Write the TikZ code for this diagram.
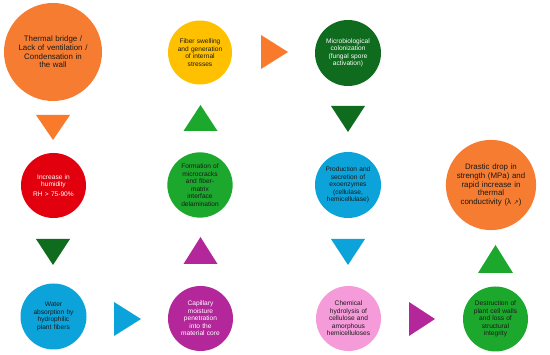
\documentclass[tikz,border=0pt]{standalone}
\usepackage{fontspec}
\setmainfont{Liberation Sans}
\newfontfamily\symfont{DejaVu Sans}
\definecolor{corange}{HTML}{F57C30}
\definecolor{torange}{HTML}{FA7A2C}
\definecolor{cyellow}{HTML}{FFC000}
\definecolor{cdgreen}{HTML}{0F6B1E}
\definecolor{cred}{HTML}{E2000E}
\definecolor{cgreen}{HTML}{1CA82C}
\definecolor{cblue}{HTML}{0BA3DA}
\definecolor{cmag}{HTML}{B4279B}
\definecolor{cpink}{HTML}{F59BDA}
\definecolor{dtext}{HTML}{1A1A1A}
\tikzset{
  bubble/.style={circle, inner sep=0pt, align=center, text width=50pt,
    font=\fontsize{6.6}{7.5}\selectfont},
  bigbubble/.style={circle, inner sep=0pt, align=center, text width=80pt,
    font=\fontsize{7.9}{8.7}\selectfont},
}
\begin{document}
\begin{tikzpicture}[x=1pt,y=-1pt]
\useasboundingbox (0,0) rectangle (550,355);
% circles
\node[bigbubble, fill=corange, text=dtext, minimum size=98pt] (cause) at (53,52) {Thermal bridge /\\Lack of ventilation /\\Condensation in\\the wall};
\node[bubble, fill=cred, text=white, minimum size=65pt] (hum) at (53.5,185.5) {Increase in\\humidity\\[2pt]RH \textgreater{} 75-90\%};
\node[bubble, fill=cblue, text=dtext, minimum size=66pt] (water) at (53.5,316.5) {Water\\absorption by\\hydrophilic\\plant fibers};
\node[bubble, fill=cmag, text=white, minimum size=65pt] (cap) at (200.5,318.5) {Capillary\\moisture\\penetration\\into the\\material core};
\node[bubble, fill=cgreen, text=dtext, minimum size=64pt] (form) at (200,185) {Formation of\\microcracks\\and fiber-\\matrix\\interface\\delamination};
\node[bubble, fill=cyellow, text=dtext, minimum size=64pt] (swell) at (200,52.5) {Fiber swelling\\and generation\\of internal\\stresses};
\node[bubble, fill=cdgreen, text=white, minimum size=66pt] (micro) at (348,53) {Microbiological\\colonization\\(fungal spore\\activation)};
\node[bubble, fill=cblue, text=dtext, minimum size=66pt] (prod) at (348,185) {Production and\\secretion of\\exoenzymes\\(cellulase,\\hemicellulase)};
\node[bubble, fill=cpink, text=dtext, minimum size=65pt] (hydro) at (348.5,318.5) {Chemical\\hydrolysis of\\cellulose and\\amorphous\\hemicelluloses};
\node[bubble, fill=cgreen, text=dtext, minimum size=65pt] (destr) at (495.5,319) {Destruction of\\plant cell walls\\and loss of\\structural\\integrity};
\node[bigbubble, fill=corange, text=dtext, minimum size=90pt] (drop) at (491,185) {Drastic drop in\\strength (MPa) and\\rapid increase in\\thermal\\conductivity (λ {\symfont\fontsize{6}{7}\selectfont ↗})};
% triangles
\fill[torange, shift={(53,127.5)}] (-17,-12.5) -- (17,-12.5) -- (0,12.5) -- cycle;
\fill[cdgreen, shift={(53,252)}] (-17,-13) -- (17,-13) -- (0,13) -- cycle;
\fill[cblue, shift={(127.5,319)}] (-13.5,-17) -- (13.5,0) -- (-13.5,17) -- cycle;
\fill[cmag, shift={(200.5,250.5)}] (-17,13.5) -- (17,13.5) -- (0,-13.5) -- cycle;
\fill[cgreen, shift={(200.5,118)}] (-17,13) -- (17,13) -- (0,-13) -- cycle;
\fill[torange, shift={(274.5,52)}] (-13.5,-17) -- (13.5,0) -- (-13.5,17) -- cycle;
\fill[cdgreen, shift={(348,119)}] (-17,-13) -- (17,-13) -- (0,13) -- cycle;
\fill[cblue, shift={(348,252)}] (-17,-13) -- (17,-13) -- (0,13) -- cycle;
\fill[cmag, shift={(422,319)}] (-13,-17) -- (13,0) -- (-13,17) -- cycle;
\fill[cgreen, shift={(495.5,259)}] (-17.5,14) -- (17.5,14) -- (0,-14) -- cycle;
\end{tikzpicture}
\end{document}
